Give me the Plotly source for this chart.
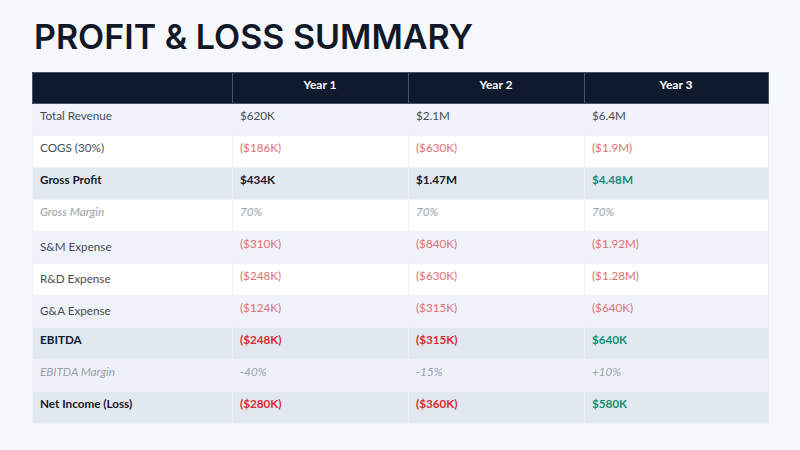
import plotly.graph_objects as go
import plotly.io as pio

# P&L summary table data
row_labels = ["Total Revenue", "COGS (30%)", "Gross Profit", "Gross Margin", "S&M Expense",
              "R&D Expense", "G&A Expense", "EBITDA", "EBITDA Margin", "Net Income (Loss)"]
year_labels = ["Year 1", "Year 2", "Year 3"]
year1 = ["$620K", "($186K)", "$434K", "70%", "($310K)", "($248K)", "($124K)", "($248K)", "-40%", "($280K)"]
year2 = ["$2.1M", "($630K)", "$1.47M", "70%", "($840K)", "($630K)", "($315K)", "($315K)", "-15%", "($360K)"]
year3 = ["$6.4M", "($1.9M)", "$4.48M", "70%", "($1.92M)", "($1.28M)", "($640K)", "$640K", "+10%", "$580K"]
row_kind = ["plain", "plain", "bold", "margin", "plain", "plain", "plain", "bold", "margin", "bold"]

NAVY = "#0f1a2e"
light = ["#eff3f9", "#ffffff"]


def text_color(text, kind, is_label):
    neg = text.startswith("(") and not is_label
    if kind == "margin":
        return "#9aa1ad"
    if kind == "bold":
        return "#d92d2d" if neg else "#141a26"
    return "#e07070" if neg else "#474c57"


columns = [row_labels, year1, year2, year3]
cell_color = [[text_color(v, row_kind[ri], ci == 0) for ri, v in enumerate(col)]
              for ci, col in enumerate(columns)]
# green for the year 3 profit rows
for ri in (2, 7, 9):
    cell_color[3][ri] = "#0f9078"

weights = [[700 if k == "bold" else 400 for k in row_kind] for _ in columns]
styles = [["italic" if k == "margin" else "normal" for k in row_kind] for _ in columns]

row_fill = []
for ri, k in enumerate(row_kind):
    if k == "bold":
        row_fill.append("#e2e8f0")
    elif k == "margin":
        row_fill.append("#ffffff" if ri == 3 else "#eef2f8")
    else:
        row_fill.append(light[ri % 2])

fig = go.Figure(go.Table(
    domain=dict(x=[0.04, 0.96], y=[0.0, 0.84]),
    columnwidth=[200, 176, 176, 184],
    header=dict(values=[""] + year_labels,
                fill_color=NAVY, line=dict(color="#4a5468", width=1),
                font=dict(family="Lato", size=12, color="white", weight=700),
                align="center", height=31),
    cells=dict(values=columns, fill_color=[row_fill] * 4,
               line=dict(color="#edf0f5", width=1),
               font=dict(family="Lato", size=11.7, color=cell_color),
               align="left", height=32),
))

fig.add_annotation(text="PROFIT & LOSS SUMMARY", x=32 / 800, y=1 - 37 / 450,
                   xref="paper", yref="paper", xanchor="left", yanchor="middle",
                   showarrow=False, font=dict(family="Inter", size=34, color="#111827", weight=600))

fig.update_layout(width=800, height=450, margin=dict(l=0, r=0, t=0, b=0),
                  paper_bgcolor="#f7f8fc", plot_bgcolor="#f7f8fc")

# per-cell weight / style: plotly.js picks these per cell, the python validator only allows 1D
fig_dict = fig.to_dict()
fig_dict["data"][0]["cells"]["font"]["weight"] = weights
fig_dict["data"][0]["cells"]["font"]["style"] = styles

pio.write_html(fig_dict, "out.html", validate=False, config={"displayModeBar": False},
               post_script="document.body.style.margin='0';")
